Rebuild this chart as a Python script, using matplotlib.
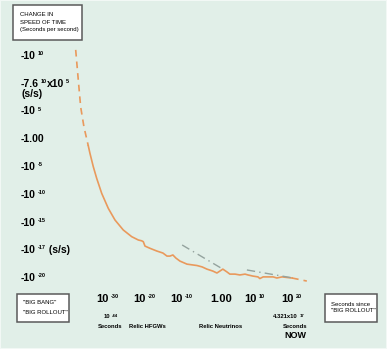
import matplotlib
matplotlib.use("Agg")
import matplotlib.pyplot as plt
from matplotlib.patches import Rectangle

plt.rcParams["font.family"] = ["Liberation Sans", "DejaVu Sans"]

# x: log10 of seconds since "Big Rollout"; y: rank of the y label (0 = -10^-20)
x_ticks = [-30, -20, -10, 0, 10, 20]
x_label_parts = [[("10", 0), ("-30", 1)], [("10", 0), ("-20", 1)],
                 [("10", 0), ("-10", 1)], [("1.00", 0)],
                 [("10", 0), ("10", 1)], [("10", 0), ("20", 1)]]
y_ticks = [8, 7, 6, 5, 4, 3, 2, 1, 0]
y_label_parts = [[("-10", 0), ("10", 1)],
                 [("-7.6", 0), ("10", 1), ("x10", 0), ("5", 1)],
                 [("-10", 0), ("5", 1)], [("-1.00", 0)],
                 [("-10", 0), ("-5", 1)], [("-10", 0), ("-10", 1)],
                 [("-10", 0), ("-15", 1)],
                 [("-10", 0), ("-17", 1), (" (s/s)", 0)],
                 [("-10", 0), ("-20", 1)]]

# early, extrapolated part of the curve (dashed)
early_x = [-39.27, -38.57, -37.92, -37.03, -35.86]
early_y = [8.22, 7.14, 6.16, 5.44, 4.76]
# measured part of the curve
curve_x = [-35.86, -35.41, -34.51, -33.59, -32.24, -30.46, -28.65, -26.41,
           -24.14, -22.35, -21.43, -21.0, -20.54, -19.19, -17.3, -15.7, -14.6,
           -13.8, -13.0, -12.2, -11.1, -9.2, -7.6, -6.5, -5.1, -3.8, -2.2, -1.1,
           -0.3, 0.5, 1.6, 2.4, 3.8, 5.1, 6.5, 7.3, 8.6, 10.0, 10.5, 11.4, 12.7,
           14.1, 15.1, 16.5, 17.8, 19.2]
curve_y = [4.76, 4.49, 4.01, 3.59, 3.05, 2.51, 2.09, 1.73,
           1.49, 1.37, 1.34, 1.31, 1.15, 1.07, 0.97, 0.90, 0.79,
           0.79, 0.83, 0.72, 0.61, 0.50, 0.47, 0.45, 0.40, 0.32, 0.25, 0.18,
           0.25, 0.32, 0.22, 0.14, 0.14, 0.11, 0.14, 0.11, 0.07, 0.04, -0.02,
           0.04, 0.04, 0.04, 0.00, 0.04, 0.02, 0.00]
# future part of the curve (dashed)
late_x = [19.2, 23.2]
late_y = [0.00, -0.11]
# trend lines
trend1_x = [-10.5, 0.5]
trend1_y = [1.19, 0.32]
trend2_x = [7.0, 19.5]
trend2_y = [0.29, 0.00]

W, H = 387, 349
BG = "#e1efe8"
ORANGE = "#e9995c"
GREY = "#94a39e"


def px_box(fig, x0, y0, x1, y1):
    rect = Rectangle((x0 / W, 1 - y1 / H), (x1 - x0) / W, (y1 - y0) / H,
                     transform=fig.transFigure, facecolor="white",
                     edgecolor="#5a5a5a", lw=1.1)
    fig.add_artist(rect)


def px_text(fig, x, y, s, **kw):
    fig.text(x / W, 1 - y / H, s, **kw)


def draw_chain(ax, parts, xy, xycoords, offset, ha, size, sup_size):
    """Base text followed by small superscripts, each placed after the last."""
    first = ax.annotate(parts[0][0], xy=xy, xycoords=xycoords, xytext=offset,
                        textcoords="offset pixels", ha=ha, va="center",
                        fontsize=size, fontweight="bold")
    prev = first
    for text, is_sup in parts[1:]:
        if is_sup:
            prev = ax.annotate(text, xy=(1, 0.58), xycoords=(prev, first),
                               xytext=(1.5, 0), textcoords="offset pixels",
                               ha="left", va="baseline", fontsize=sup_size,
                               fontweight="bold")
        else:
            prev = ax.annotate(text, xy=(1, 0), xycoords=(prev, first),
                               xytext=(0.5, 0), textcoords="offset pixels",
                               ha="left", va="bottom", fontsize=size,
                               fontweight="bold")
    return first


fig = plt.figure(figsize=(3.87, 3.49), dpi=100, facecolor=BG)
fig.add_artist(Rectangle((0, 0), 1, 1, transform=fig.transFigure,
                         facecolor="none", edgecolor="#f2f8f5", lw=1.5))
ax = fig.add_axes([60 / W, 1 - 285 / H, 260 / W, 240 / H])
ax.set_facecolor(BG)
for sp in ax.spines.values():
    sp.set_visible(False)
ax.set_xlim(-43.51, 26.76)
ax.set_ylim(-0.252, 8.396)
ax.set_xticks([])
ax.set_yticks([])

ax.plot(early_x, early_y, color=ORANGE, lw=1.2, dashes=(4, 3))
ax.plot(curve_x, curve_y, color=ORANGE, lw=1.2)
ax.plot(late_x, late_y, color=ORANGE, lw=1.2, dashes=(4, 3))
ax.plot(trend1_x, trend1_y, color=GREY, lw=1.0, dashes=(6, 3, 1, 3))
ax.plot(trend2_x, trend2_y, color=GREY, lw=1.0, dashes=(6, 3, 1, 3))

# y labels, left aligned at the figure's left margin
ytrans = ax.get_yaxis_transform()
for yv, parts in zip(y_ticks, y_label_parts):
    first = draw_chain(ax, parts, (0, yv), ytrans, (-39, 0), "left", 7.5, 4)
    if parts[0][0] == "-7.6":
        ax.annotate("(s/s)", xy=(0, 0), xycoords=first, xytext=(0, 0),
                    textcoords="offset pixels", ha="left", va="top",
                    fontsize=7.5, fontweight="bold")

# x labels
xtrans = ax.get_xaxis_transform()
for xv, parts in zip(x_ticks, x_label_parts):
    if len(parts) == 1:
        draw_chain(ax, parts, (xv, 0), xtrans, (0, -14), "center", 8, 4)
    else:
        draw_chain(ax, parts, (xv, 0), xtrans, (-1, -14), "right", 8, 4)

sub = dict(ha="center", va="center", fontsize=4.2, fontweight="bold")
notes = [(-20, 42, "Relic HFGWs"), (0, 42, "Relic Neutrinos"),
         (-30, 42, "Seconds"), (20, 42, "Seconds")]
for x, dy, s in notes:
    ax.annotate(s, xy=(x, 0), xycoords=xtrans, xytext=(0, -dy),
                textcoords="offset pixels", **sub)
draw_chain(ax, [("10", 0), ("-44", 1)], (-30, 0), xtrans, (0, -32), "right",
           4.2, 3)
draw_chain(ax, [("4.321x10", 0), ("17", 1)], (20, 0), xtrans, (3, -32),
           "right", 4.2, 3)
ax.annotate("NOW", xy=(20, 0), xycoords=xtrans, xytext=(0, -50),
            textcoords="offset pixels", ha="center", va="center",
            fontsize=6.5, fontweight="bold")

px_box(fig, 13, 5, 82, 40)
px_text(fig, 20, 15, "CHANGE IN", fontsize=4.3, va="center")
px_text(fig, 20, 22, "SPEED OF TIME", fontsize=4.3, va="center")
px_text(fig, 20, 29, "(Seconds per second)", fontsize=4.3, va="center")

px_box(fig, 17, 294, 69, 322)
px_text(fig, 23, 303, '"BIG BANG"', fontsize=4.3, va="center")
px_text(fig, 23, 313, '"BIG ROLLOUT"', fontsize=4.3, va="center")

px_box(fig, 325, 294, 377, 322)
px_text(fig, 331, 305, "Seconds since", fontsize=4.3, va="center")
px_text(fig, 331, 311, '"BIG ROLLOUT"', fontsize=4.3, va="center")

fig.savefig("out.png", dpi=100, facecolor=BG)
